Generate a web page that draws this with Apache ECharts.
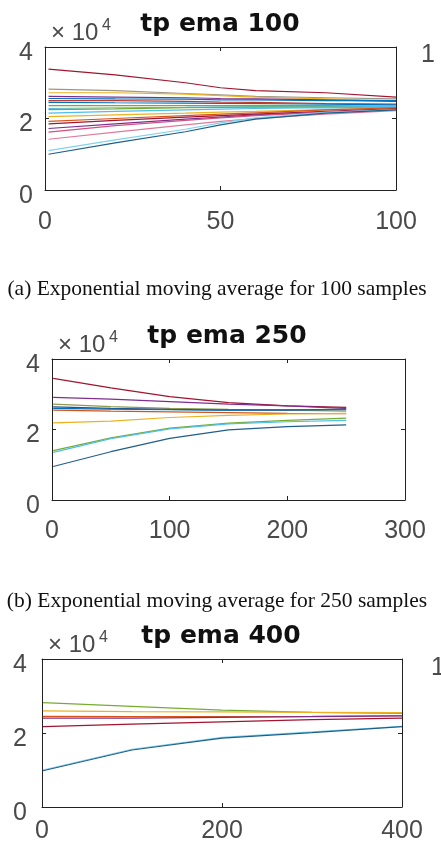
<!DOCTYPE html>
<html>
<head>
<meta charset="utf-8">
<script src="https://cdn.jsdelivr.net/npm/echarts@6/dist/echarts.min.js"></script>
<style>
  html, body { margin: 0; padding: 0; background: #fff; }
  #main { width: 441px; height: 849px; }
</style>
</head>
<body>
<div id="main"></div>
<script>
// values are in units of 10^4 (the "x10^4" on each y axis)
var yTicks = [0, 2, 4];

// panel (a): ema over 100 samples
var xs100 = [1, 20, 40, 50, 60, 80, 100];
var xTicks100 = [0, 50, 100];
var ema100 = [
  [3.38, 3.22, 3.00, 2.86, 2.78, 2.72, 2.60],
  [2.82, 2.78, 2.70, 2.66, 2.62, 2.58, 2.55],
  [2.72, 2.72, 2.68, 2.64, 2.60, 2.55, 2.50],
  [2.62, 2.60, 2.58, 2.56, 2.55, 2.52, 2.48],
  [2.56, 2.55, 2.54, 2.52, 2.52, 2.50, 2.50],
  [2.50, 2.50, 2.48, 2.46, 2.45, 2.42, 2.40],
  [2.45, 2.44, 2.43, 2.42, 2.42, 2.40, 2.38],
  [2.36, 2.36, 2.36, 2.36, 2.37, 2.36, 2.35],
  [2.28, 2.30, 2.31, 2.32, 2.33, 2.33, 2.34],
  [2.25, 2.27, 2.30, 2.31, 2.32, 2.32, 2.30],
  [2.15, 2.20, 2.24, 2.26, 2.28, 2.30, 2.30],
  [2.05, 2.10, 2.15, 2.18, 2.20, 2.25, 2.28],
  [1.92, 2.00, 2.08, 2.12, 2.16, 2.24, 2.30],
  [1.85, 1.95, 2.04, 2.08, 2.12, 2.20, 2.27],
  [1.72, 1.85, 1.98, 2.04, 2.10, 2.18, 2.25],
  [1.62, 1.80, 1.95, 2.02, 2.08, 2.18, 2.25],
  [1.42, 1.62, 1.82, 1.92, 2.00, 2.12, 2.22],
  [1.10, 1.40, 1.70, 1.88, 2.02, 2.17, 2.25],
  [1.00, 1.32, 1.63, 1.82, 1.98, 2.15, 2.24]
];
var col100 = ['#A2142F', '#9C9684', '#EDB120', '#7E2F8E', '#0072BD', '#C0392B', '#0072BD',
  '#77AC30', '#4DBEEE', '#77AC30', '#4DBEEE', '#EDB120', '#D95319', '#A2142F', '#7E2F8E',
  '#D4507E', '#E07A9A', '#7FD3F0', '#1F5F8B'];

// panel (b): ema over 250 samples
var xs250 = [1, 50, 100, 150, 200, 250];
var xTicks250 = [0, 100, 200, 300];
var ema250 = [
  [3.45, 3.18, 2.93, 2.76, 2.67, 2.63],
  [2.91, 2.86, 2.79, 2.72, 2.67, 2.60],
  [2.72, 2.65, 2.60, 2.57, 2.55, 2.52],
  [2.64, 2.60, 2.57, 2.55, 2.55, 2.58],
  [2.60, 2.58, 2.56, 2.55, 2.56, 2.56],
  [2.55, 2.52, 2.50, 2.48, 2.46, 2.45],
  [2.19, 2.24, 2.34, 2.40, 2.44, 2.46],
  [1.40, 1.76, 2.04, 2.18, 2.26, 2.32],
  [1.35, 1.74, 2.02, 2.16, 2.22, 2.26],
  [0.95, 1.37, 1.75, 1.99, 2.08, 2.13]
];
var col250 = ['#A2142F', '#7E2F8E', '#8E9A50', '#2F4F7F', '#0072BD', '#D95319',
  '#EDB120', '#77AC30', '#4DBEEE', '#1F5F8B'];

// panel (c): ema over 400 samples
var xs400 = [1, 100, 200, 300, 400];
var xTicks400 = [0, 200, 400];
var ema400 = [
  [2.82, 2.72, 2.62, 2.56, 2.53],
  [2.60, 2.58, 2.57, 2.56, 2.55],
  [2.45, 2.44, 2.44, 2.45, 2.47],
  [2.40, 2.40, 2.42, 2.44, 2.46],
  [2.17, 2.24, 2.30, 2.36, 2.40],
  [1.00, 1.56, 1.88, 2.03, 2.18],
  [0.98, 1.54, 1.86, 2.01, 2.17]
];
var col400 = ['#77AC30', '#EDB120', '#D95319', '#7E2F8E', '#A2142F', '#7FD3F0', '#1F5F8B'];

var panels = [
  { xs: xs100, ys: ema100, colors: col100, xt: xTicks100, title: 'tp ema 100',
    left: 45, right: 45, top: 47, height: 143, xMargin: 20, yMargin: 12, titleX: 220,
    caption: '(a) Exponential moving average for 100 samples', captionY: 289, stray: [428, 55] },
  { xs: xs250, ys: ema250, colors: col250, xt: xTicks250, title: 'tp ema 250',
    left: 52, right: 36, top: 359, height: 141, xMargin: 19, yMargin: 12, titleX: 227,
    caption: '(b) Exponential moving average for 250 samples', captionY: 601, stray: null },
  { xs: xs400, ys: ema400, colors: col400, xt: xTicks400, title: 'tp ema 400',
    left: 42, right: 39, top: 659, height: 148, xMargin: 12, yMargin: 15, titleX: 221,
    caption: null, stray: [438, 668] }
];

var axisColor = '#222';
var labelColor = '#4a4a4a';
var grids = [], xAxes = [], yAxes = [], series = [], texts = [];

panels.forEach(function (p, i) {
  grids.push({ left: p.left, right: p.right, top: p.top, height: p.height });
  var xmin = p.xt[0], xmax = p.xt[p.xt.length - 1], xstep = p.xt[1] - p.xt[0];
  var ymin = yTicks[0], ymax = yTicks[yTicks.length - 1], ystep = yTicks[1] - yTicks[0];
  ['bottom', 'top'].forEach(function (pos) {
    xAxes.push({
      type: 'value', gridIndex: i, position: pos, min: xmin, max: xmax, interval: xstep,
      axisLine: { show: true, onZero: false, lineStyle: { color: axisColor, width: 1 } },
      axisTick: { show: true, inside: true, length: 4, lineStyle: { color: axisColor } },
      axisLabel: { show: pos === 'bottom', margin: p.xMargin, color: labelColor,
        fontFamily: 'Liberation Sans, Arial', fontSize: 25 },
      splitLine: { show: false }
    });
  });
  ['left', 'right'].forEach(function (pos) {
    yAxes.push({
      type: 'value', gridIndex: i, position: pos, min: ymin, max: ymax, interval: ystep,
      axisLine: { show: true, onZero: false, lineStyle: { color: axisColor, width: 1 } },
      axisTick: { show: true, inside: true, length: 4, lineStyle: { color: axisColor } },
      // MATLAB-ish labels sit a little below their ticks in the picture
      axisLabel: { show: pos === 'left', margin: p.yMargin, color: labelColor,
        fontFamily: 'Liberation Sans, Arial', fontSize: 25,
        verticalAlign: 'top', lineHeight: 12 },
      splitLine: { show: false }
    });
  });
  p.ys.forEach(function (row, k) {
    series.push({
      type: 'line', xAxisIndex: i * 2, yAxisIndex: i * 2,
      data: p.xs.map(function (x, j) { return [x, row[j]]; }),
      showSymbol: false, silent: true,
      lineStyle: { width: 1.2, color: p.colors[k] },
      itemStyle: { color: p.colors[k] }
    });
  });
  texts.push({
    type: 'text', x: p.titleX, y: p.top - 23,
    style: { text: p.title, font: 'bold 25px "DejaVu Sans"', fill: '#111',
      textAlign: 'center', textVerticalAlign: 'middle' }
  });
  texts.push({
    type: 'text', x: p.left + 6, y: p.top - 14,
    style: { text: '\u00d7 10', font: '24px "Liberation Sans"', fill: labelColor,
      textAlign: 'left', textVerticalAlign: 'middle' }
  });
  texts.push({
    type: 'text', x: p.left + 57, y: p.top - 21,
    style: { text: '4', font: '16px "Liberation Sans"', fill: labelColor,
      textAlign: 'left', textVerticalAlign: 'middle' }
  });
  if (p.caption) {
    texts.push({
      type: 'text', x: 217, y: p.captionY,
      style: { text: p.caption, font: '21.5px "Liberation Serif"', fill: '#111',
        textAlign: 'center', textVerticalAlign: 'middle' }
    });
  }
  if (p.stray) {
    texts.push({
      type: 'text', x: p.stray[0], y: p.stray[1],
      style: { text: '1', font: '25px "Liberation Sans"', fill: labelColor,
        textAlign: 'center', textVerticalAlign: 'middle' }
    });
  }
});

var chart = echarts.init(document.getElementById('main'), null, { renderer: 'canvas' });
chart.setOption({
  animation: false,
  backgroundColor: '#fff',
  grid: grids,
  xAxis: xAxes,
  yAxis: yAxes,
  series: series,
  graphic: texts
});
</script>
</body>
</html>
